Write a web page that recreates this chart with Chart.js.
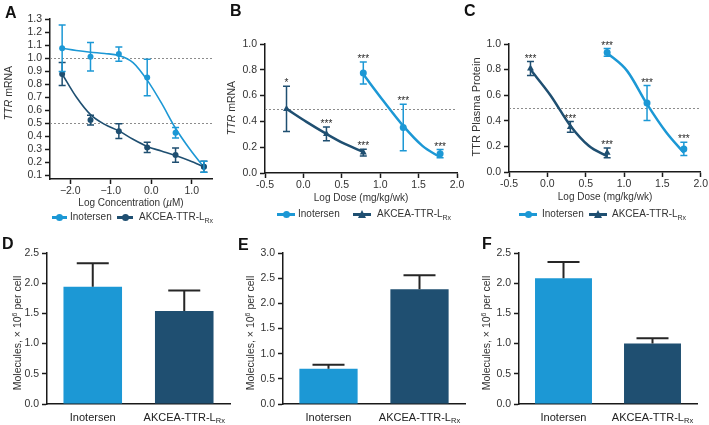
<!DOCTYPE html>
<html>
<head>
<meta charset="utf-8">
<script src="https://cdn.jsdelivr.net/npm/chart.js@4/dist/chart.umd.min.js"></script>
<style>
  body { margin: 0; background: #fff; }
  #page { position: relative; width: 709px; height: 425px; overflow: hidden; background: #fff;
          font-family: "Liberation Sans", Arial, sans-serif; color: #333; }
  #page canvas { position: absolute; }
  .t { position: absolute; white-space: nowrap; line-height: 1; }
</style>
</head>
<body>
<div id="page">
  <canvas id="cA" width="232" height="200" style="left:0;top:0"></canvas>
  <canvas id="cB" width="236" height="200" style="left:232px;top:0"></canvas>
  <canvas id="cC" width="241" height="200" style="left:468px;top:0"></canvas>
  <canvas id="cD" width="236" height="195" style="left:0;top:230px"></canvas>
  <canvas id="cE" width="236" height="195" style="left:236px;top:230px"></canvas>
  <canvas id="cF" width="237" height="195" style="left:472px;top:230px"></canvas>
</div>
<script>
const LIGHT = '#1c98d5';
const DARK = '#1f4f71';
const AXIS = '#1a1a1a';

// panel A - in vitro, log concentration (uM)
const concA = [-2.2, -1.5, -0.8, -0.1, 0.6, 1.3];
const inoA = [1.075, 1.01, 1.03, 0.85, 0.425, 0.164];
const inoAerr = [0.178, 0.11, 0.055, 0.14, 0.04, 0.042];
const akA = [0.877, 0.523, 0.438, 0.313, 0.254, 0.164];
const akAerr = [0.088, 0.038, 0.057, 0.04, 0.055, 0.042];
// fitted curves
const fitXA = [-2.2, -1.85, -1.5, -1.15, -0.8, -0.45, -0.1, 0.25, 0.6, 0.95, 1.3];
const fitInoA = [1.075, 1.058, 1.045, 1.035, 1.02, 0.965, 0.83, 0.655, 0.46, 0.3, 0.16];
const fitAkA = [0.877, 0.70, 0.565, 0.49, 0.44, 0.375, 0.32, 0.285, 0.25, 0.21, 0.165];
const yTicksA = [0.1, 0.2, 0.3, 0.4, 0.5, 0.6, 0.7, 0.8, 0.9, 1.0, 1.1, 1.2, 1.3];
const xTicksA = [-2, -1, 0, 1];
const refA = [1.0, 0.5];

// panel B - TTR mRNA vs log dose
const doseAk = [-0.22, 0.3, 0.78];
const doseIno = [0.78, 1.3, 1.78];
const bAk = [0.497, 0.303, 0.158];
const bAkErr = [0.175, 0.053, 0.027];
const bAkStars = ['*', '***', '***'];
const bIno = [0.775, 0.352, 0.15];
const bInoErr = [0.085, 0.18, 0.032];
const bInoStars = ['***', '***', '***'];
const fitXAk = [-0.22, 0.04, 0.3, 0.54, 0.78];
const fitXIno = [0.78, 1.04, 1.3, 1.55, 1.78];
const fitBak = [0.497, 0.396, 0.303, 0.225, 0.163];
const fitBino = [0.765, 0.56, 0.365, 0.21, 0.122];

// panel C - TTR plasma protein vs log dose
const cAk = [0.808, 0.352, 0.15];
const cAkErr = [0.055, 0.042, 0.038];
const cAkStars = ['***', '***', '***'];
const cIno = [0.934, 0.539, 0.18];
const cInoErr = [0.03, 0.136, 0.052];
const cInoStars = ['***', '***', '***'];
const fitCak = [0.80, 0.60, 0.362, 0.205, 0.122];
const fitCino = [0.93, 0.79, 0.53, 0.31, 0.15];
const doseTicks = [-0.5, 0, 0.5, 1.0, 1.5, 2.0];
const fracTicks = [0, 0.2, 0.4, 0.6, 0.8, 1.0];
const refBC = [0.5];

// panels D-F - molecules x 10^6 per cell
const barLabels = ['Inotersen', 'AKCEA-TTR-L'];
const barSubs = ['', 'Rx'];
const molD = [1.94, 1.54];
const errD = [0.39, 0.34];
const molE = [0.70, 2.28];
const errE = [0.08, 0.28];
const molF = [2.08, 1.00];
const errF = [0.27, 0.09];

Chart.defaults.font.family = '"Liberation Sans", Arial, sans-serif';
Chart.defaults.font.size = 10.5;
Chart.defaults.color = '#333';

const refLines = {
  id: 'refLines',
  beforeDatasetsDraw(chart, args, opts) {
    if (!opts.values) return;
    const { ctx, chartArea: a, scales: { y } } = chart;
    ctx.save();
    ctx.strokeStyle = '#8c8c8c';
    ctx.lineWidth = 1;
    ctx.setLineDash([2, 2]);
    opts.values.forEach(v => {
      const py = Math.round(y.getPixelForValue(v)) + 0.5;
      ctx.beginPath();
      ctx.moveTo(a.left, py);
      ctx.lineTo(a.right, py);
      ctx.stroke();
    });
    ctx.restore();
  }
};

const errorBars = {
  id: 'errorBars',
  afterDatasetsDraw(chart) {
    const { ctx, scales: { y } } = chart;
    chart.data.datasets.forEach((ds, i) => {
      if (!ds.err) return;
      const meta = chart.getDatasetMeta(i);
      ctx.save();
      ctx.strokeStyle = ds.errColor || ds.pointBackgroundColor;
      ctx.lineWidth = ds.errWidth || 1.5;
      meta.data.forEach((el, j) => {
        const raw = ds.data[j];
        const v = typeof raw === 'object' ? raw.y : raw;
        const x = el.x;
        const cw = ds.capHalf || 3.5;
        const yHi = y.getPixelForValue(v + ds.err[j]);
        const yLo = y.getPixelForValue(ds.upOnly ? v : v - ds.err[j]);
        ctx.beginPath();
        ctx.moveTo(x, yLo); ctx.lineTo(x, yHi);
        ctx.moveTo(x - cw, yHi); ctx.lineTo(x + cw, yHi);
        if (!ds.upOnly) { ctx.moveTo(x - cw, yLo); ctx.lineTo(x + cw, yLo); }
        ctx.stroke();
        if (ds.stars) {
          ctx.fillStyle = '#2a2a2a';
          ctx.font = '10px "Liberation Sans", Arial, sans-serif';
          ctx.textAlign = 'center';
          ctx.textBaseline = 'alphabetic';
          ctx.fillText(ds.stars[j], x, yHi);
        }
      });
      ctx.restore();
    });
  }
};

// category labels with the Rx subscript
const catLabels = {
  id: 'catLabels',
  afterDraw(chart) {
    const { ctx, chartArea, scales: { x } } = chart;
    ctx.save();
    ctx.fillStyle = '#222';
    ctx.textBaseline = 'alphabetic';
    ctx.textAlign = 'left';
    barLabels.forEach((lab, i) => {
      const px = x.getPixelForValue(i);
      ctx.font = '11px "Liberation Sans", Arial, sans-serif';
      const w1 = ctx.measureText(lab).width;
      ctx.font = '7.5px "Liberation Sans", Arial, sans-serif';
      const w2 = barSubs[i] ? ctx.measureText(barSubs[i]).width : 0;
      const sx = px - (w1 + w2) / 2;
      const by = chartArea.bottom + 16.5;
      ctx.font = '11px "Liberation Sans", Arial, sans-serif';
      ctx.fillText(lab, sx, by);
      if (barSubs[i]) {
        ctx.font = '7.5px "Liberation Sans", Arial, sans-serif';
        ctx.fillText(barSubs[i], sx + w1, by + 2.5);
      }
    });
    ctx.restore();
  }
};

const pts = (xs, ys) => xs.map((x, i) => ({ x: x, y: ys[i] }));

function axisStyle() {
  return {
    grid: { drawOnChartArea: false, drawTicks: true, tickLength: 5, tickColor: AXIS, tickWidth: 1.5 },
    border: { color: AXIS, width: 1.5 }
  };
}

function doseChart(id, c) {
  return new Chart(document.getElementById(id), {
    type: 'scatter',
    data: { datasets: c.datasets },
    options: {
      responsive: false,
      animation: false,
      events: [],
      layout: { padding: { left: 0, top: c.top, right: c.right, bottom: 0 } },
      plugins: { legend: { display: false }, tooltip: { enabled: false }, refLines: { values: c.ref } },
      scales: {
        x: Object.assign(axisStyle(), {
          type: 'linear', min: c.xMin, max: c.xMax,
          afterFit: s => { s.height = c.xH; },
          afterBuildTicks: s => { s.ticks = c.xTicks.map(v => ({ value: v })); },
          ticks: { padding: 1, maxRotation: 0, autoSkip: false, callback: c.xFmt }
        }),
        y: Object.assign(axisStyle(), {
          type: 'linear', min: c.yMin, max: c.yMax,
          afterFit: s => { s.width = c.yW; },
          afterBuildTicks: s => { s.ticks = c.yTicks.map(v => ({ value: v })); },
          ticks: { padding: 3, autoSkip: false, callback: v => v.toFixed(1) }
        })
      }
    },
    plugins: [refLines, errorBars]
  });
}

function pointSet(xs, ys, err, color, style, r, stars) {
  return {
    data: pts(xs, ys), showLine: false, pointStyle: style, pointRadius: r,
    pointBackgroundColor: color, pointBorderColor: color, pointBorderWidth: 0,
    err: err, stars: stars, capHalf: 3.5, errWidth: 1.5
  };
}
function fitSet(xs, ys, color, w) {
  return {
    data: pts(xs, ys), showLine: true, pointRadius: 0, borderColor: color, borderWidth: w,
    cubicInterpolationMode: 'monotone', fill: false
  };
}

doseChart('cA', {
  top: 19, right: 20, xH: 21, yW: 50,
  xMin: -2.5, xMax: 1.5, yMin: 0.07, yMax: 1.3,
  xTicks: xTicksA, yTicks: yTicksA, ref: refA,
  xFmt: v => (v < 0 ? '\u2212' : '') + Math.abs(v).toFixed(1),
  datasets: [
    pointSet(concA, akA, akAerr, DARK, 'circle', 3, null),
    pointSet(concA, inoA, inoAerr, LIGHT, 'circle', 3, null),
    fitSet(fitXA, fitAkA, DARK, 1.6),
    fitSet(fitXA, fitInoA, LIGHT, 1.6)
  ]
});

doseChart('cB', {
  top: 44, right: 11, xH: 27, yW: 33,
  xMin: -0.5, xMax: 2.0, yMin: 0, yMax: 1.0,
  xTicks: doseTicks, yTicks: fracTicks, ref: refBC,
  xFmt: v => v.toFixed(1),
  datasets: [
    pointSet(doseAk, bAk, bAkErr, DARK, 'triangle', 4, bAkStars),
    pointSet(doseIno, bIno, bInoErr, LIGHT, 'circle', 3.5, bInoStars),
    fitSet(fitXAk, fitBak, DARK, 2.5),
    fitSet(fitXIno, fitBino, LIGHT, 2.5)
  ]
});

doseChart('cC', {
  top: 44, right: 8, xH: 28, yW: 41,
  xMin: -0.5, xMax: 2.0, yMin: 0, yMax: 1.0,
  xTicks: doseTicks, yTicks: fracTicks, ref: refBC,
  xFmt: v => v.toFixed(1),
  datasets: [
    pointSet(doseAk, cAk, cAkErr, DARK, 'triangle', 4, cAkStars),
    pointSet(doseIno, cIno, cInoErr, LIGHT, 'circle', 3.5, cInoStars),
    fitSet(fitXAk, fitCak, DARK, 2.5),
    fitSet(fitXIno, fitCino, LIGHT, 2.5)
  ]
});

function barChart(id, vals, errs, yMax, right) {
  return new Chart(document.getElementById(id), {
    type: 'bar',
    data: {
      labels: barLabels,
      datasets: [{
        data: vals, backgroundColor: [LIGHT, DARK], borderWidth: 0,
        barPercentage: 0.64, categoryPercentage: 1.0,
        err: errs, upOnly: true, capHalf: 16, errWidth: 2, errColor: '#262626'
      }]
    },
    options: {
      responsive: false,
      animation: false,
      events: [],
      layout: { padding: { left: 0, top: 23, right: right, bottom: 0 } },
      plugins: { legend: { display: false }, tooltip: { enabled: false } },
      scales: {
        x: {
          grid: { display: true, drawOnChartArea: false, drawTicks: false },
          border: { color: AXIS, width: 1.5 },
          ticks: { display: false },
          afterFit: s => { s.height = 21; }
        },
        y: Object.assign(axisStyle(), {
          min: 0, max: yMax,
          afterFit: s => { s.width = 47; },
          ticks: { stepSize: 0.5, padding: 3, callback: v => v.toFixed(1) }
        })
      }
    },
    plugins: [errorBars, catLabels]
  });
}

barChart('cD', molD, errD, 2.5, 6);
barChart('cE', molE, errE, 3.0, 7);
barChart('cF', molF, errF, 2.5, 12);

// text: panel letters, axis titles, legends
const page = document.getElementById('page');
function put(html, x, y, css) {
  const d = document.createElement('div');
  d.className = 't';
  d.innerHTML = html;
  d.style.left = x + 'px';
  d.style.top = y + 'px';
  d.style.cssText += css;
  page.appendChild(d);
  return d;
}
const center = 'transform:translate(-50%,-50%);font-size:10px;';
const rot = 'transform:translate(-50%,-50%) rotate(-90deg);font-size:10.5px;';
const letter = 'transform:translateY(-50%);font-size:16px;font-weight:bold;color:#111;';

put('A', 5, 12.5, letter);
put('B', 230, 10.5, letter);
put('C', 464, 10.5, letter);
put('D', 2, 244, letter);
put('E', 238, 245, letter);
put('F', 482, 244, letter);

put('<i>TTR</i> mRNA', 8, 93, rot);
put('<i>TTR</i> mRNA', 231, 108, rot);
put('TTR Plasma Protein', 476, 107, rot + 'font-size:11px;');
const molTitle = 'Molecules, \u00d7 10<span style="font-size:7px;position:relative;top:-4px">6</span> per cell';
put(molTitle, 17, 333, rot);
put(molTitle, 250, 333, rot);
put(molTitle, 486, 333, rot);

put('Log Concentration (<i>\u00b5</i>M)', 131, 203, center);
put('Log Dose (mg/kg/wk)', 361, 197.5, center);
put('Log Dose (mg/kg/wk)', 605, 197, center);

function legendItem(x0, len, y, color, marker, textX, html) {
  const line = document.createElement('div');
  line.style.cssText = `position:absolute;left:${x0}px;top:${y - 1.5}px;width:${len}px;height:3px;background:${color};`;
  page.appendChild(line);
  const m = document.createElement('div');
  const cx = x0 + len / 2;
  if (marker === 'circle') {
    m.style.cssText = `position:absolute;left:${cx - 3.5}px;top:${y - 3.5}px;width:7px;height:7px;border-radius:50%;background:${color};`;
  } else {
    m.style.cssText = `position:absolute;left:${cx - 4.5}px;top:${y - 4.5}px;width:0;height:0;border-left:4.5px solid transparent;border-right:4.5px solid transparent;border-bottom:8px solid ${color};`;
  }
  page.appendChild(m);
  put(html, textX, y, 'transform:translateY(-50%);font-size:10px;');
}
const akLabel = 'AKCEA-TTR-L<span style="font-size:7px;position:relative;top:2.5px">Rx</span>';

legendItem(52, 15, 217, LIGHT, 'circle', 70, 'Inotersen');
legendItem(117, 16, 217, DARK, 'circle', 139, akLabel);
legendItem(277, 18, 214, LIGHT, 'circle', 298, 'Inotersen');
legendItem(353, 18, 214, DARK, 'triangle', 377, akLabel);
legendItem(519, 18, 214, LIGHT, 'circle', 542, 'Inotersen');
legendItem(589, 18, 214, DARK, 'triangle', 612, akLabel);
</script>
</body>
</html>
